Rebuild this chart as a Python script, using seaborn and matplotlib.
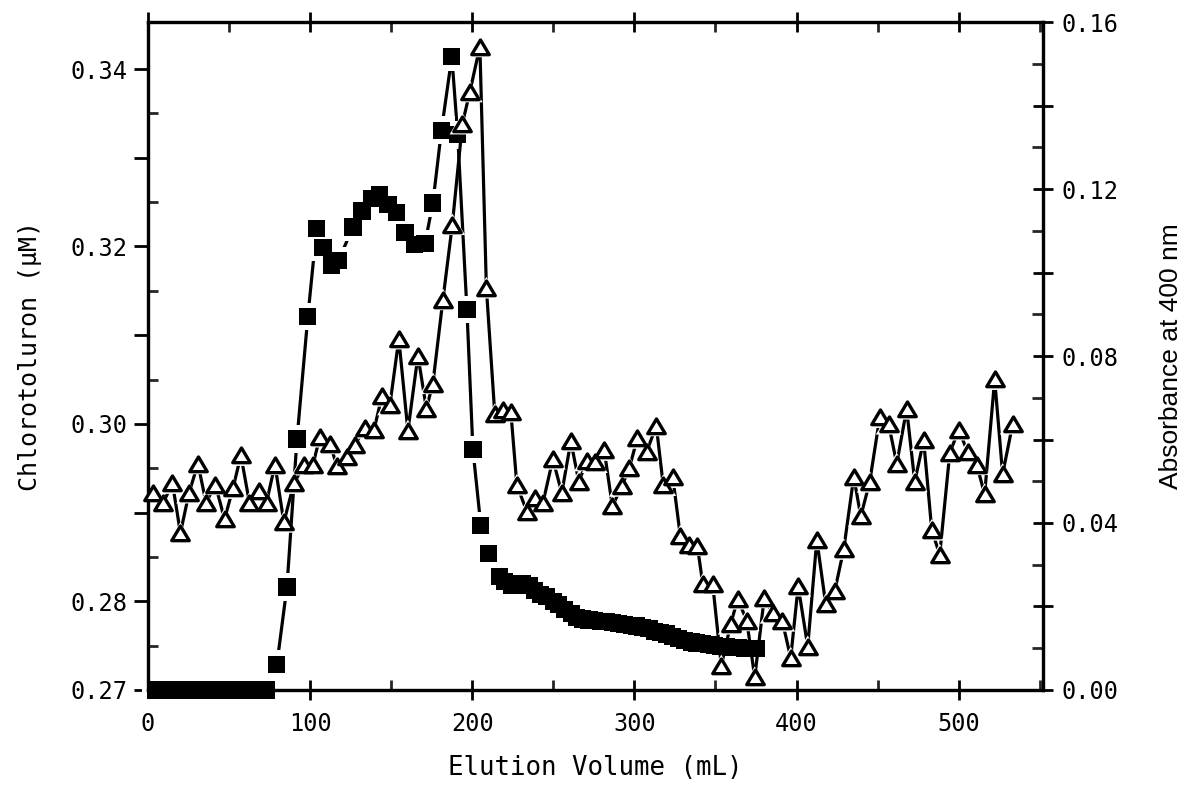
import numpy as np
import pandas as pd
import matplotlib
matplotlib.use("Agg")
import matplotlib.pyplot as plt
import seaborn as sns
from matplotlib.path import Path
from matplotlib.ticker import FixedLocator, FixedFormatter

# ---------------- data ----------------
# Chlorotoluron (filled squares, left axis, uM)
sq_volume = [5, 9, 13, 17, 21, 25, 29, 33, 37, 41, 45, 49, 53, 57, 61, 65, 69, 73,
             79.5, 85.7, 91.9, 98.6, 104.0, 108.0, 113.0, 117.5, 126.4, 132.0, 138.0,
             143.0, 148.0, 153.5, 158.5, 164.6, 170.8, 175.7, 181.0, 187.4, 191.0,
             196.7, 200.4, 205.3, 210.0,
             217, 220, 224, 227.5, 231, 235, 238.6, 242, 246, 250, 253, 257, 261,
             264.5, 268, 272, 275.6, 279, 283, 286.7, 290, 294, 298, 301.5, 305, 309,
             312.6, 316, 320, 323.7, 327, 331, 335, 338.5, 342, 346, 349.6, 353, 357,
             360.7, 364, 368, 372, 375.5]
sq_conc = [0.27, 0.27, 0.27, 0.27, 0.27, 0.27, 0.27, 0.27, 0.27, 0.27, 0.27, 0.27,
           0.27, 0.27, 0.27, 0.27, 0.27, 0.27,
           0.2729, 0.2816, 0.2983, 0.3121, 0.3220, 0.3199, 0.3179, 0.3184, 0.3222,
           0.3240, 0.3254, 0.3258, 0.3247, 0.3238, 0.3216, 0.3202, 0.3203, 0.3249,
           0.3331, 0.3414, 0.3326, 0.3129, 0.2971, 0.2885, 0.2854,
           0.2828, 0.2822, 0.2818, 0.2820, 0.2820, 0.2818, 0.2812, 0.2808, 0.2805,
           0.2800, 0.2796, 0.2791, 0.2786, 0.2782, 0.2780, 0.2779, 0.2778, 0.2777,
           0.2777, 0.2776, 0.2775, 0.2774, 0.2773, 0.2772, 0.2770, 0.2769, 0.2766,
           0.2765, 0.2763, 0.2760, 0.2758, 0.2756, 0.2754, 0.2753, 0.2752, 0.2751,
           0.2750, 0.2749, 0.2749, 0.2748, 0.2748, 0.2747, 0.2747, 0.2747]

# Absorbance at 400 nm (open triangles, right axis)
tri_volume = [3.4, 9.2, 15.1, 20.0, 25.3, 30.8, 35.8, 41.6, 47.2, 52.4, 57.3, 62.6,
              68.4, 73.1, 78.3, 83.8, 90.0, 96.2, 101.7, 106.0, 112.2, 116.5, 122.7,
              127.6, 133.8, 139.3, 144.3, 149.2, 154.7, 160.3, 166.5, 171.7, 175.7,
              181.9, 187.7, 193.9, 198.5, 204.7, 208.7, 213.9, 218.9, 223.8, 227.5,
              233.7, 238.6, 243.5, 249.7, 255.2, 260.8, 265.7, 270.7, 275.6, 281.4,
              286.4, 292.2, 296.9, 301.8, 307.6, 313.5, 317.8, 323.7, 328.3, 333.5,
              338.8, 342.2, 348.3, 353.6, 359.4, 363.7, 369.3, 374.2, 380.1, 385.3,
              391.2, 396.4, 401.0, 406.9, 412.5, 418.0, 423.6, 429.1, 435.3, 439.6,
              445.1, 451.3, 456.8, 461.8, 467.9, 472.9, 478.4, 483.4, 488.3, 494.5,
              500.0, 505.5, 511.1, 516.0, 522.2, 527.1, 533.3]
tri_abs = [0.0473, 0.0447, 0.0495, 0.0376, 0.0472, 0.0542, 0.0449, 0.0492, 0.0409,
           0.0483, 0.0562, 0.0448, 0.0477, 0.0449, 0.0540, 0.0402, 0.0495, 0.0539,
           0.0539, 0.0606, 0.0590, 0.0537, 0.0557, 0.0588, 0.0627, 0.0622, 0.0704,
           0.0683, 0.0841, 0.0621, 0.0801, 0.0674, 0.0734, 0.0935, 0.1115, 0.1356,
           0.1433, 0.1541, 0.0963, 0.0660, 0.0670, 0.0666, 0.0491, 0.0427, 0.0459,
           0.0447, 0.0553, 0.0472, 0.0596, 0.0499, 0.0549, 0.0545, 0.0574, 0.0440,
           0.0488, 0.0532, 0.0603, 0.0571, 0.0633, 0.0490, 0.0509, 0.0369, 0.0348,
           0.0346, 0.0253, 0.0253, 0.0058, 0.0158, 0.0218, 0.0166, 0.0030, 0.0221,
           0.0184, 0.0165, 0.0077, 0.0249, 0.0104, 0.0360, 0.0205, 0.0238, 0.0337,
           0.0511, 0.0416, 0.0498, 0.0653, 0.0637, 0.0542, 0.0673, 0.0499, 0.0598,
           0.0383, 0.0324, 0.0568, 0.0623, 0.0571, 0.0540, 0.0469, 0.0744, 0.0517,
           0.0637]

x_ticks = [0, 100, 200, 300, 400, 500]
x_labels = ["0", "100", "200", "300", "400", "500"]
x_minor = [50, 150, 250, 350, 450, 550]
left_ticks = [0.27, 0.28, 0.29, 0.30, 0.31, 0.32, 0.33, 0.34]
left_labels = ["0.27", "0.28", "", "0.30", "", "0.32", "", "0.34"]
left_minor = [0.275, 0.285, 0.295, 0.305, 0.315, 0.325, 0.335]
right_ticks = [0.00, 0.02, 0.04, 0.06, 0.08, 0.10, 0.12, 0.14, 0.16]
right_labels = ["0.00", "", "0.04", "", "0.08", "", "0.12", "", "0.16"]
right_minor = [0.01, 0.03, 0.05, 0.07, 0.09, 0.11, 0.13, 0.15]

# ---------------- style ----------------
sns.set_theme(style="white")
plt.rcParams['font.family'] = ['DejaVu Sans Mono', 'DejaVu Sans']
plt.rcParams['axes.linewidth'] = 2.3
plt.rcParams['axes.edgecolor'] = 'black'

fig = plt.figure(figsize=(11.82, 7.88), dpi=100)
ax = fig.add_axes([0.1252, 0.1244, 0.7572, 0.8476])
ax2 = ax.twinx()

sq = pd.DataFrame({"volume": sq_volume, "conc": sq_conc})
tri = pd.DataFrame({"volume": tri_volume, "absorb": tri_abs})

tri_marker = Path([(-1.0, -0.82), (1.0, -0.82), (0.0, 0.86), (-1.0, -0.82)],
                  [Path.MOVETO, Path.LINETO, Path.LINETO, Path.CLOSEPOLY])

# squares
sns.lineplot(data=sq, x="volume", y="conc", ax=ax, color="black", linewidth=2.3,
             sort=False, estimator=None, zorder=1, legend=False)
sns.scatterplot(data=sq, x="volume", y="conc", ax=ax, marker="s", s=20 ** 2,
                color="white", edgecolor="none", linewidth=0, zorder=2,
                clip_on=False, legend=False)
sns.scatterplot(data=sq, x="volume", y="conc", ax=ax, marker="s", s=12.4 ** 2,
                color="black", edgecolor="none", linewidth=0, zorder=3,
                clip_on=False, legend=False)

# triangles
sns.lineplot(data=tri, x="volume", y="absorb", ax=ax2, color="black", linewidth=2.3,
             sort=False, estimator=None, zorder=1, legend=False)
sns.scatterplot(data=tri, x="volume", y="absorb", ax=ax2, marker=tri_marker,
                s=18.5 ** 2, color="white", edgecolor="none", linewidth=0, zorder=2,
                clip_on=False, legend=False)
sns.scatterplot(data=tri, x="volume", y="absorb", ax=ax2, marker=tri_marker,
                s=12.6 ** 2, color="white", edgecolor="black", linewidth=2.4,
                zorder=3, clip_on=False, legend=False)

# ---------------- axes ----------------
ax.set_xlim(0, 552)
ax.set_ylim(0.27, 0.3453)
ax2.set_ylim(0, 0.16)

ax.xaxis.set_major_locator(FixedLocator(x_ticks))
ax.xaxis.set_major_formatter(FixedFormatter(x_labels))
ax.xaxis.set_minor_locator(FixedLocator(x_minor))
ax.tick_params(axis='x', which='major', direction='inout', length=15, width=2,
               top=True, bottom=True, labelsize=17, pad=8, colors='black')
ax.tick_params(axis='x', which='minor', direction='in', length=7, width=2,
               top=True, bottom=True)

ax.yaxis.set_major_locator(FixedLocator(left_ticks))
ax.yaxis.set_major_formatter(FixedFormatter(left_labels))
ax.yaxis.set_minor_locator(FixedLocator(left_minor))
ax.tick_params(axis='y', which='major', direction='out', length=10, width=2,
               left=True, right=False, labelsize=17, pad=5, colors='black')
ax.tick_params(axis='y', which='minor', direction='in', length=7, width=2,
               left=True, right=False)

ax2.yaxis.set_major_locator(FixedLocator(right_ticks))
ax2.yaxis.set_major_formatter(FixedFormatter(right_labels))
ax2.yaxis.set_minor_locator(FixedLocator(right_minor))
ax2.tick_params(axis='y', which='major', direction='inout', length=15, width=2,
                right=True, labelsize=17, pad=6, colors='black')
ax2.tick_params(axis='y', which='minor', direction='in', length=8, width=2,
                right=True)

for a in (ax, ax2):
    for sp in a.spines.values():
        sp.set_linewidth(2.3)
        sp.set_color('black')

ax.set_xlabel("Elution Volume (mL)", fontsize=18.5, color='black')
ax.xaxis.set_label_coords(0.5, -0.098)
ax.set_ylabel("Chlorotoluron (\u00b5M)", fontsize=18, color='black')
ax.yaxis.set_label_coords(-0.118, 0.5)
ax2.set_ylabel("Absorbance at 400 nm", fontsize=19, color='black',
               family=['Liberation Sans', 'DejaVu Sans'])
ax2.yaxis.set_label_coords(1.13, 0.5)

fig.savefig("out.png", dpi=100)
